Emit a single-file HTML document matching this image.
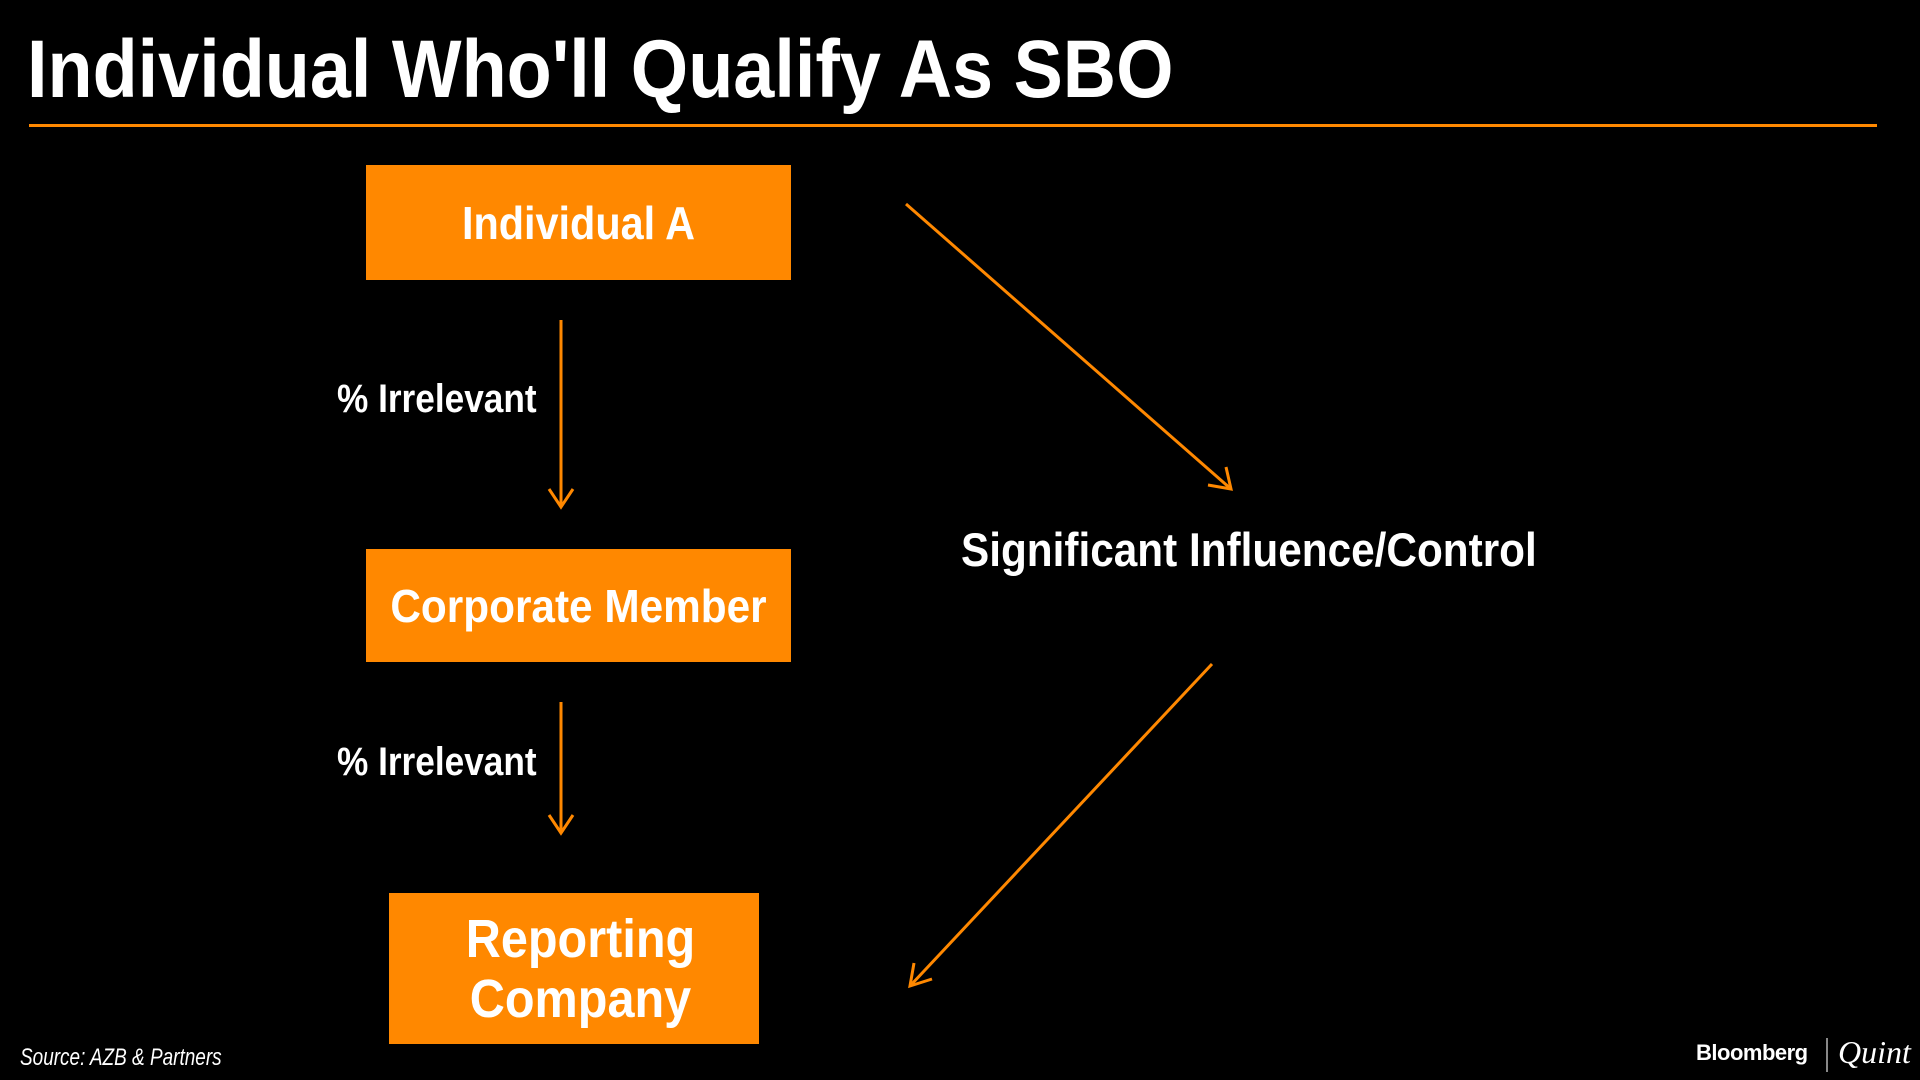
<!DOCTYPE html>
<html><head><meta charset="utf-8"><style>
html,body{margin:0;padding:0;background:#000;}
body{width:1920px;height:1080px;position:relative;overflow:hidden;font-family:"Liberation Sans",sans-serif;color:#fff;}
.t{position:absolute;white-space:nowrap;font-weight:bold;transform-origin:0 50%;}
.box{position:absolute;background:#FF8800;display:flex;align-items:center;justify-content:center;text-align:center;font-weight:bold;color:#fff;}
.box span{display:inline-block;white-space:nowrap;}
</style></head><body>
<div class="t" style="left:27px;top:22px;font-size:82px;line-height:96px;transform:scaleX(0.9);">Individual Who'll Qualify As SBO</div>
<div style="position:absolute;left:29px;top:124px;width:1848px;height:3px;background:#FF8800;"></div>

<div class="box" style="left:366px;top:165px;width:425px;height:115px;font-size:46px;"><span style="transform:scaleX(0.9)">Individual A</span></div>
<div class="box" style="left:366px;top:549px;width:425px;height:113px;font-size:46px;"><span style="transform:scaleX(0.92)">Corporate Member</span></div>
<div class="box" style="left:389px;top:893px;width:370px;height:151px;font-size:54px;line-height:60px;"><span style="transform:translateX(6px) scaleX(0.9)">Reporting<br>Company</span></div>

<div class="t" style="left:337px;top:374px;font-size:40px;line-height:50px;transform:scaleX(0.88);">% Irrelevant</div>
<div class="t" style="left:337px;top:737px;font-size:40px;line-height:50px;transform:scaleX(0.88);">% Irrelevant</div>
<div class="t" style="left:961px;top:522px;font-size:47px;line-height:56px;transform:scaleX(0.9);">Significant Influence/Control</div>

<svg width="1920" height="1080" style="position:absolute;left:0;top:0" fill="none" stroke="#FF8800" stroke-width="3">
<line x1="561" y1="320" x2="561" y2="507"/><polyline points="549,489 561,507 573,489"/>
<line x1="561" y1="702" x2="561" y2="833"/><polyline points="549,815 561,833 573,815"/>
<line x1="906" y1="204" x2="1231" y2="489"/><polyline points="1208,485 1231,489 1226,467"/>
<line x1="1212" y1="664" x2="910" y2="986"/><polyline points="914,963 910,986 932,979"/>
</svg>

<div style="position:absolute;left:20px;top:1044px;font-size:24px;font-style:italic;color:#fff;white-space:nowrap;transform:scaleX(0.79);transform-origin:0 50%;">Source: AZB &amp; Partners</div>
<div style="position:absolute;left:1696px;top:1040px;font-family:'Liberation Sans',sans-serif;font-weight:bold;font-size:22px;letter-spacing:-0.5px;">Bloomberg</div>
<div style="position:absolute;left:1826px;top:1038px;width:2px;height:34px;background:#888;"></div>
<div style="position:absolute;left:1838px;top:1034px;font-family:'Liberation Serif',serif;font-style:italic;font-size:32px;">Quint</div>
</body></html>
